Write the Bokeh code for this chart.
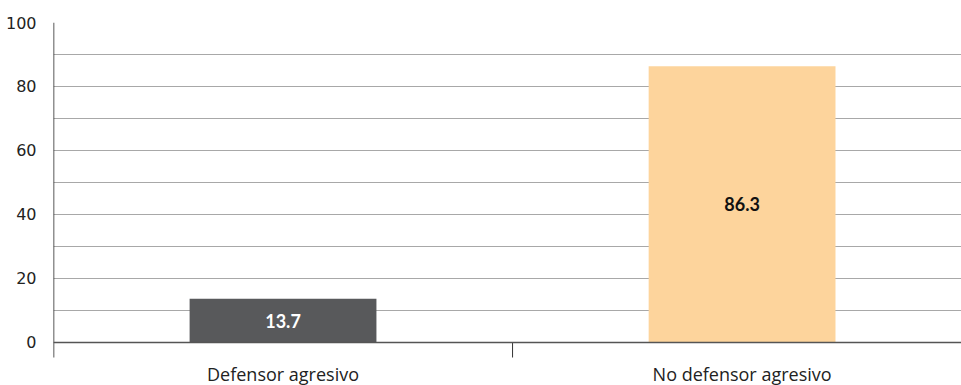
from bokeh.plotting import figure
from bokeh.models import Range1d, FixedTicker, LinearAxis, Span, ColumnDataSource
from bokeh.core.properties import value
from bokeh.embed import file_html
from bokeh.resources import INLINE

categories = ["Defensor agresivo", "No defensor agresivo"]
values = [13.7, 86.3]
bar_colors = ["#58595b", "#fdd49c"]
label_colors = ["#ffffff", "#111111"]
y_ticks = [0, 20, 40, 60, 80, 100]
grid_ticks = list(range(0, 101, 10))

axis_low = -4.7      # where the axis lines stop below zero
frame_low = -13.45   # leaves room for the category names inside the frame
xs = [i + 0.5 for i in range(len(categories))]

src = ColumnDataSource(dict(
    x=xs,
    top=values,
    mid=[v / 2 for v in values],
    color=bar_colors,
    lcolor=label_colors,
    label=[f"{v:.1f}" for v in values],
    cat=categories,
    ybase=[axis_low] * len(categories),
))

p = figure(width=961, height=385, output_backend="svg", toolbar_location=None,
           x_range=Range1d(0, 1.978), y_range=Range1d(frame_low, 100),
           x_axis_location=None, y_axis_location=None,
           min_border_left=53, min_border_right=0, min_border_top=22,
           min_border_bottom=0)
p.outline_line_color = None
p.xgrid.visible = False
p.ygrid.ticker = FixedTicker(ticks=grid_ticks)
p.ygrid.grid_line_color = "#a8a8a8"
p.ygrid.grid_line_width = 1

yaxis = LinearAxis(ticker=FixedTicker(ticks=y_ticks))
yaxis.axis_line_color = None
yaxis.major_tick_line_color = None
yaxis.minor_tick_line_color = None
yaxis.major_label_standoff = 11
yaxis.major_label_text_font = "DejaVu Sans"
yaxis.major_label_text_font_size = "16px"
yaxis.major_label_text_color = "#222222"
p.add_layout(yaxis, "left")

p.vbar(x="x", top="top", bottom=0, width=0.407, fill_color="color",
       line_color=None, source=src)

# baseline, vertical axis line and category separators
p.add_layout(Span(location=0, dimension="width", line_color="#555555", line_width=1.5))
p.segment(x0=[0], x1=[0], y0=[axis_low], y1=[100], line_color="#222222", line_width=1.5)
p.segment(x0=list(range(1, len(categories))), x1=list(range(1, len(categories))),
          y0=axis_low, y1=0, line_color="#333333", line_width=1)

# value labels inside the bars
p.text(x="x", y="mid", text="label", text_color="lcolor", source=src,
       text_align="center", text_baseline="middle",
       text_font=value("Lato"), text_font_style="bold", text_font_size="18px")

# category names under the axis
p.text(x="x", y="ybase", text="cat", source=src, y_offset=16,
       text_align="center", text_baseline="middle",
       text_font=value("Open Sans"), text_font_size="18px", text_color="#222222")

open("out.html", "w").write(file_html(p, INLINE))
